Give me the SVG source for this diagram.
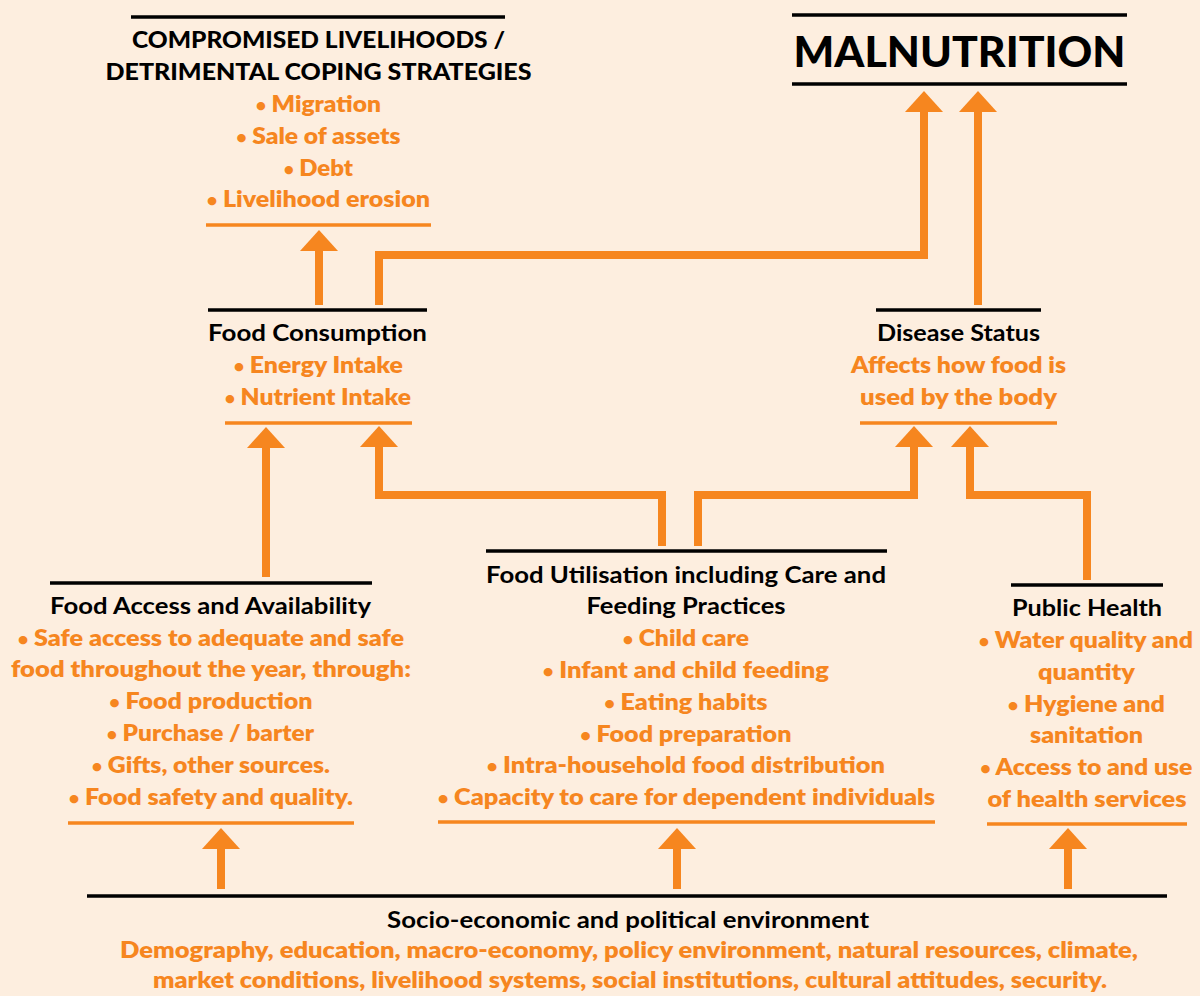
<svg xmlns="http://www.w3.org/2000/svg" width="1200" height="996" viewBox="0 0 1200 996">
<style>
text{font-family:Lato,"Open Sans","Liberation Sans",sans-serif;text-anchor:middle;font-size:22px;font-weight:700}
.t{fill:#000}
.o{fill:#F6861F;font-size:23px;font-weight:800}
.b{font-size:16px;baseline-shift:1.5px}
.h{font-weight:900;font-size:22px}
.big{font-weight:900;font-size:42px}
.kl{stroke:#000;stroke-width:3.5;fill:none}
.ol{stroke:#F6861F;stroke-width:3.5;fill:none}
.c{stroke:#F6861F;stroke-width:8;fill:none;stroke-linejoin:miter;marker-end:url(#ah)}
</style>
<defs>
<marker id="ah" markerUnits="userSpaceOnUse" viewBox="0 0 21 38" markerWidth="21" markerHeight="38" refX="1" refY="19" orient="auto">
<path d="M0,0 L21,19 L0,38 Z" fill="#F6861F"/>
</marker>
</defs>
<rect width="1200" height="996" fill="#FDEEDF"/>

<g id="connectors">
<path class="c" d="M319,305 V250"/>
<path class="c" d="M379,305 V255 H924 V111"/>
<path class="c" d="M978,305 V111"/>
<path class="c" d="M266,577 V447"/>
<path class="c" d="M662,546 V495 H379 V446"/>
<path class="c" d="M698,546 V495 H914 V446"/>
<path class="c" d="M1087,580 V495 H970 V446"/>
<path class="c" d="M221,889 V848"/>
<path class="c" d="M677,889 V848"/>
<path class="c" d="M1068,889 V848"/>
</g>

<g id="malnutrition">
<line class="kl" x1="792" y1="15" x2="1127" y2="15"/>
<text class="t big" x="959.5" y="67" textLength="332" lengthAdjust="spacingAndGlyphs">MALNUTRITION</text>
<line class="kl" x1="792" y1="84" x2="1127" y2="84"/>
</g>

<g id="compromised">
<line class="kl" x1="131" y1="17" x2="505" y2="17"/>
<text class="t h" x="318.5" y="48" textLength="373" lengthAdjust="spacingAndGlyphs">COMPROMISED LIVELIHOODS /</text>
<text class="t h" x="318.5" y="80" textLength="426" lengthAdjust="spacingAndGlyphs">DETRIMENTAL COPING STRATEGIES</text>
<text class="o" x="318.5" y="112" textLength="125" lengthAdjust="spacingAndGlyphs"><tspan class="b">•</tspan> Migration</text>
<text class="o" x="318.5" y="144" textLength="164" lengthAdjust="spacingAndGlyphs"><tspan class="b">•</tspan> Sale of assets</text>
<text class="o" x="318.5" y="176" textLength="69" lengthAdjust="spacingAndGlyphs"><tspan class="b">•</tspan> Debt</text>
<text class="o" x="318.5" y="207" textLength="223" lengthAdjust="spacingAndGlyphs"><tspan class="b">•</tspan> Livelihood erosion</text>
<line class="ol" x1="206" y1="225" x2="431" y2="225"/>
</g>

<g id="food-consumption">
<line class="kl" x1="208" y1="310" x2="427" y2="310"/>
<text class="t" x="317.5" y="341" textLength="219" lengthAdjust="spacingAndGlyphs">Food Consumption</text>
<text class="o" x="318.5" y="373" textLength="169" lengthAdjust="spacingAndGlyphs"><tspan class="b">•</tspan> Energy Intake</text>
<text class="o" x="318" y="405" textLength="186" lengthAdjust="spacingAndGlyphs"><tspan class="b">•</tspan> Nutrient Intake</text>
<line class="ol" x1="225" y1="423" x2="412" y2="423"/>
</g>

<g id="disease-status">
<line class="kl" x1="876" y1="310" x2="1041" y2="310"/>
<text class="t" x="958.5" y="341" textLength="163" lengthAdjust="spacingAndGlyphs">Disease Status</text>
<text class="o" x="958.5" y="373" textLength="215" lengthAdjust="spacingAndGlyphs">Affects how food is</text>
<text class="o" x="958.5" y="405" textLength="197" lengthAdjust="spacingAndGlyphs">used by the body</text>
<line class="ol" x1="860" y1="423" x2="1057" y2="423"/>
</g>

<g id="food-access">
<line class="kl" x1="50" y1="583" x2="372" y2="583"/>
<text class="t" x="210.5" y="614" textLength="321" lengthAdjust="spacingAndGlyphs">Food Access and Availability</text>
<text class="o" x="211" y="646" textLength="386" lengthAdjust="spacingAndGlyphs"><tspan class="b">•</tspan> Safe access to adequate and safe</text>
<text class="o" x="211" y="677" textLength="400" lengthAdjust="spacingAndGlyphs">food throughout the year, through:</text>
<text class="o" x="211" y="709" textLength="203" lengthAdjust="spacingAndGlyphs"><tspan class="b">•</tspan> Food production</text>
<text class="o" x="210.5" y="741" textLength="207" lengthAdjust="spacingAndGlyphs"><tspan class="b">•</tspan> Purchase / barter</text>
<text class="o" x="211" y="773" textLength="238" lengthAdjust="spacingAndGlyphs"><tspan class="b">•</tspan> Gifts, other sources.</text>
<text class="o" x="211" y="805" textLength="284" lengthAdjust="spacingAndGlyphs"><tspan class="b">•</tspan> Food safety and quality.</text>
<line class="ol" x1="68" y1="823" x2="354" y2="823"/>
</g>

<g id="food-utilisation">
<line class="kl" x1="486" y1="551" x2="887" y2="551"/>
<text class="t" x="686" y="583" textLength="400" lengthAdjust="spacingAndGlyphs">Food Utilisation including Care and</text>
<text class="t" x="686" y="614" textLength="199" lengthAdjust="spacingAndGlyphs">Feeding Practices</text>
<text class="o" x="686" y="646" textLength="126" lengthAdjust="spacingAndGlyphs"><tspan class="b">•</tspan> Child care</text>
<text class="o" x="686" y="678" textLength="286" lengthAdjust="spacingAndGlyphs"><tspan class="b">•</tspan> Infant and child feeding</text>
<text class="o" x="686" y="710" textLength="163" lengthAdjust="spacingAndGlyphs"><tspan class="b">•</tspan> Eating habits</text>
<text class="o" x="686" y="742" textLength="211" lengthAdjust="spacingAndGlyphs"><tspan class="b">•</tspan> Food preparation</text>
<text class="o" x="686" y="773" textLength="398" lengthAdjust="spacingAndGlyphs"><tspan class="b">•</tspan> Intra-household food distribution</text>
<text class="o" x="686.5" y="805" textLength="497" lengthAdjust="spacingAndGlyphs"><tspan class="b">•</tspan> Capacity to care for dependent individuals</text>
<line class="ol" x1="438" y1="822" x2="935" y2="822"/>
</g>

<g id="public-health">
<line class="kl" x1="1011" y1="585" x2="1163" y2="585"/>
<text class="t" x="1087" y="616" textLength="150" lengthAdjust="spacingAndGlyphs">Public Health</text>
<text class="o" x="1086" y="648" textLength="214" lengthAdjust="spacingAndGlyphs"><tspan class="b">•</tspan> Water quality and</text>
<text class="o" x="1086.5" y="680" textLength="97" lengthAdjust="spacingAndGlyphs">quantity</text>
<text class="o" x="1086.5" y="712" textLength="157" lengthAdjust="spacingAndGlyphs"><tspan class="b">•</tspan> Hygiene and</text>
<text class="o" x="1086.5" y="743" textLength="113" lengthAdjust="spacingAndGlyphs">sanitation</text>
<text class="o" x="1086.5" y="775" textLength="212" lengthAdjust="spacingAndGlyphs"><tspan class="b">•</tspan> Access to and use</text>
<text class="o" x="1087" y="807" textLength="199" lengthAdjust="spacingAndGlyphs">of health services</text>
<line class="ol" x1="987" y1="824" x2="1187" y2="824"/>
</g>

<g id="socio-economic">
<line class="kl" x1="87" y1="896" x2="1167" y2="896"/>
<text class="t" x="628" y="928" textLength="482" lengthAdjust="spacingAndGlyphs">Socio-economic and political environment</text>
<text class="o" x="629" y="958" textLength="1018" lengthAdjust="spacingAndGlyphs">Demography, education, macro-economy, policy environment, natural resources, climate,</text>
<text class="o" x="630" y="988" textLength="954" lengthAdjust="spacingAndGlyphs">market conditions, livelihood systems, social institutions, cultural attitudes, security.</text>
</g>
</svg>
